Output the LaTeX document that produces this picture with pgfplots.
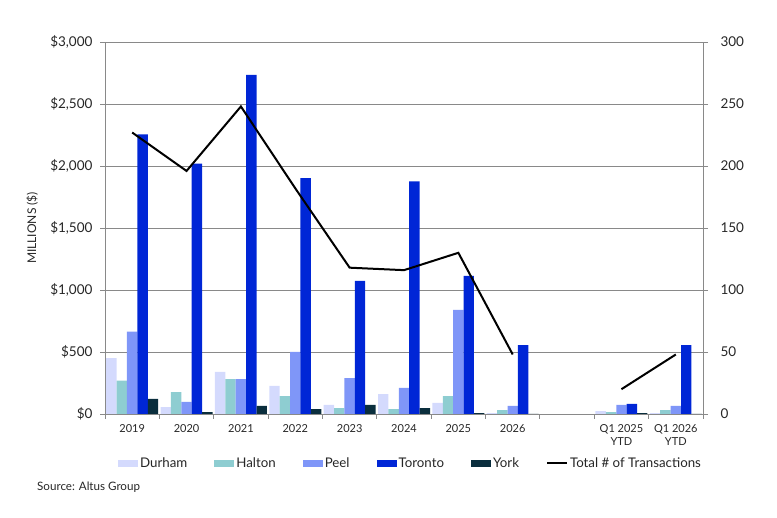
\documentclass[border=0pt]{standalone}
\usepackage{fontspec}
\setmainfont{Lato}
\usepackage{pgfplots}
\pgfplotsset{compat=1.18}
\definecolor{durham}{HTML}{D4DAFD}
\definecolor{halton}{HTML}{8ECDD1}
\definecolor{peel}{HTML}{7F96F8}
\definecolor{toronto}{HTML}{0026D6}
\definecolor{york}{HTML}{0A2E3D}
\definecolor{gridc}{HTML}{898989}
\definecolor{textc}{HTML}{262626}
\pgfplotsset{
  barleg/.style={legend image code/.code={\fill[##1] (0bp,-3.5bp) rectangle (20bp,3.5bp);}},
  lineleg/.style={legend image code/.code={\draw[##1] (0bp,0bp) -- (20bp,0bp);}},
}
\begin{document}
\begin{tikzpicture}
\useasboundingbox (0,0) rectangle (777bp,518bp);
\begin{axis}[
  at={(105bp,104bp)}, anchor=south west, scale only axis,
  width=598bp, height=372bp,
  ybar=0pt, bar width=10.4bp,
  xmin=-0.5, xmax=10.5, ymin=0, ymax=3000,
  xtick={0,...,10},
  xticklabels={2019,2020,2021,2022,2023,2024,2025,2026,{},{Q1 2025\\YTD},{Q1 2026\\YTD}},
  xticklabel style={align=center, font=\fontsize{11bp}{13.5bp}\selectfont, text=textc, yshift=-2bp},
  minor xtick={-0.5,0.5,...,10.5},
  major x tick style={draw=none},
  ytick={0,500,...,3000},
  yticklabels={\$0,\$500,{\$1,000},{\$1,500},{\$2,000},{\$2,500},{\$3,000}},
  yticklabel style={font=\fontsize{13.5bp}{15bp}\selectfont, text=textc, xshift=-4bp},
  ylabel={MILLIONS (\$)},
  ylabel style={at={(axis description cs:-0.122,0.5)}, anchor=center, font=\fontsize{12bp}{14bp}\selectfont, text=textc},
  ymajorgrids, grid style={gridc, line width=0.9bp},
  axis line style={gridc, line width=0.9bp},
  tick style={gridc, line width=0.9bp},
  tick align=outside, major tick length=5bp, minor tick length=5bp,
  ytick pos=left, xtick pos=bottom,
  legend columns=6,
  legend style={at={(axis description cs:0.511,-0.133)}, anchor=center, draw=none, fill=none,
    inner sep=0pt, font=\fontsize{13.3bp}{15bp}\selectfont, text=textc,
    /tikz/every even column/.append style={column sep=25bp}},
]
\addplot[fill=durham, draw=none, barleg] coordinates {(0,450)(1,56)(2,339)(3,226)(4,73)(5,161)(6,89)(7,8)(9,24)(10,8)};
\addplot[fill=halton, draw=none, barleg] coordinates {(0,270)(1,177)(2,282)(3,145)(4,48)(5,40)(6,145)(7,32)(9,16)(10,32)};
\addplot[fill=peel, draw=none, barleg] coordinates {(0,665)(1,97)(2,282)(3,500)(4,290)(5,210)(6,839)(7,65)(9,73)(10,65)};
\addplot[fill=toronto, draw=none, barleg] coordinates {(0,2255)(1,2020)(2,2734)(3,1903)(4,1073)(5,1875)(6,1113)(7,556)(9,81)(10,556)};
\addplot[fill=york, draw=none, barleg] coordinates {(0,121)(1,16)(2,65)(3,40)(4,73)(5,48)(6,8)(7,0)(9,8)(10,0)};
\addlegendimage{black, line width=2bp, lineleg}
\legend{Durham,Halton,Peel,Toronto,York,Total \# of Transactions}
\end{axis}
\begin{axis}[
  at={(105bp,104bp)}, anchor=south west, scale only axis,
  width=598bp, height=372bp,
  xmin=-0.5, xmax=10.5, ymin=0, ymax=300,
  axis y line*=right, axis x line=none,
  ytick={0,50,...,300},
  yticklabel style={font=\fontsize{13.5bp}{15bp}\selectfont, text=textc, xshift=9bp},
  /pgf/number format/assume math mode=true,
  axis line style={gridc, line width=0.9bp},
  tick style={gridc, line width=0.9bp},
  tick align=outside, major tick length=5bp,
]
\addplot[black, line width=2bp] coordinates {(0,227)(1,196)(2,248)(3,182)(4,118)(5,116)(6,130)(7,48)};
\addplot[black, line width=2bp] coordinates {(9,20)(10,48)};
\end{axis}
\node[anchor=west, font=\fontsize{11.6bp}{13bp}\selectfont, text=textc, inner sep=0pt] at (37bp,31bp) {Source: Altus Group};
\end{tikzpicture}
\end{document}
